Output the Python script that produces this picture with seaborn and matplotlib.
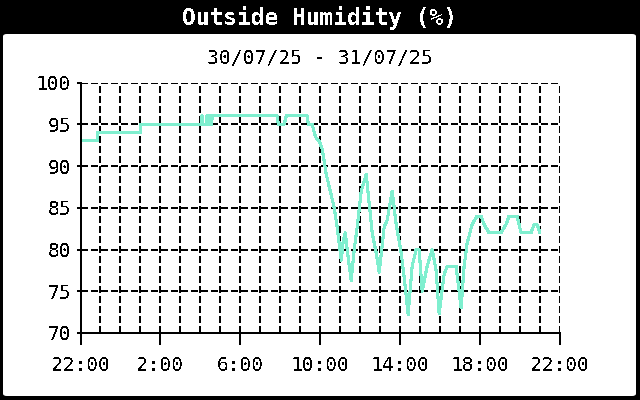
import matplotlib
matplotlib.use('Agg')
import matplotlib.pyplot as plt
from matplotlib.patches import FancyBboxPatch
import seaborn as sns

# hours since 22:00 on 30/07 and outside humidity (%)
hours = [0.0, 0.85, 0.85, 3.0, 3.0, 6.05, 6.05, 6.1, 6.1, 6.3, 6.3, 6.35, 6.4,
         6.45, 6.5, 6.55, 6.6, 9.85, 9.9, 10.2, 10.3, 11.35, 11.4, 11.6, 11.7,
         11.8, 11.95, 12.1, 12.2, 12.3, 12.45, 12.55, 12.7, 12.85, 13.05, 13.15,
         13.25, 13.4, 13.55, 13.7, 13.85, 14.05, 14.3, 14.45, 14.6, 14.8, 14.95,
         15.2, 15.35, 15.6, 15.8, 16.05, 16.2, 16.4, 16.6, 16.8, 16.95, 17.1,
         17.35, 17.6, 17.8, 17.95, 18.2, 18.35, 18.8, 18.95, 19.05, 19.2, 19.35,
         19.6, 19.85, 20.05, 20.2, 20.45, 21.05, 21.3, 21.45, 21.85, 22.05,
         22.55, 22.7, 22.85, 23.0]
humidity = [93, 93, 94, 94, 95, 95, 96, 96, 95, 95, 96, 95, 96,
            95, 96, 95, 96, 96, 95, 95, 96, 96, 95, 95, 94,
            93.3, 93, 92, 90.5, 89, 87.5, 86.5, 85, 82.6, 78.7, 81,
            82, 79, 76.3, 80, 82.7, 87, 89, 85.5, 82, 79.6, 77.3,
            82.7, 83.5, 87, 83, 79.6, 76.7, 72.2, 78, 80, 80, 75,
            78, 80, 77.5, 72.3, 77, 78, 78, 75, 73, 78, 80.7,
            83, 84, 84, 83, 82, 82, 83, 84, 84, 82,
            82, 83, 83, 82]

xtick_pos = [0, 4, 8, 12, 16, 20, 24]
xtick_labels = ['22:00', '2:00', '6:00', '10:00', '14:00', '18:00', '22:00']
ytick_pos = [70, 75, 80, 85, 90, 95, 100]

title = 'Outside Humidity (%)'
subtitle = '30/07/25 - 31/07/25'

sns.set_style('ticks')
plt.rcParams['font.family'] = ['DejaVu Sans Mono']
plt.rcParams['text.antialiased'] = False
plt.rcParams['lines.antialiased'] = False

fig = plt.figure(figsize=(6.4, 4.0), dpi=100)
fig.patch.set_facecolor('black')

# white panel below the title bar
panel = FancyBboxPatch((3 / 640, 4 / 400), 633 / 640, 362 / 400,
                       boxstyle='round,pad=0,rounding_size=0.006',
                       transform=fig.transFigure, facecolor='white',
                       edgecolor='none', zorder=-10)
fig.patches.append(panel)

fig.text(0.5, 1 - 18 / 400, title, color='white', fontsize=16.5,
         fontweight='bold', ha='center', va='center')
fig.text(0.5, 1 - 58 / 400, subtitle, color='black', fontsize=14.2,
         ha='center', va='center')

ax = fig.add_axes([80.5 / 640, 67 / 400, 479.5 / 640, 250.5 / 400])
ax.set_facecolor('white')

sns.lineplot(x=hours, y=humidity, ax=ax, estimator=None, sort=False,
             color='#7FEFCF', linewidth=1.5, zorder=3)

ax.set_xlim(0, 24)
ax.set_ylim(70, 100)
ax.set_xticks(xtick_pos)
ax.set_xticklabels(xtick_labels)
ax.set_xticks(range(0, 25), minor=True)
ax.set_yticks(ytick_pos)
ax.set_yticklabels([str(v) for v in ytick_pos])

ax.grid(True, which='both', axis='x', color='black', linewidth=1.44,
        linestyle=(0, (3, 2)))
ax.grid(True, which='major', axis='y', color='black', linewidth=1.44,
        linestyle=(0, (3, 2)))
ax.set_axisbelow(True)

ax.tick_params(axis='x', which='major', direction='out', length=8.6,
               width=1.44, color='black', labelsize=14, pad=8,
               labelcolor='black')
ax.tick_params(axis='x', which='minor', length=0)
ax.tick_params(axis='y', direction='out', length=3, width=1.44,
               color='black', labelsize=14, pad=4, labelcolor='black')

for side in ['top', 'right']:
    ax.spines[side].set_visible(False)
for side in ['left', 'bottom']:
    ax.spines[side].set_color('black')
    ax.spines[side].set_linewidth(1.44)
    ax.spines[side].set_zorder(4)

ax.set_xlabel('')
ax.set_ylabel('')

fig.savefig('out.png', dpi=100, facecolor=fig.get_facecolor())
